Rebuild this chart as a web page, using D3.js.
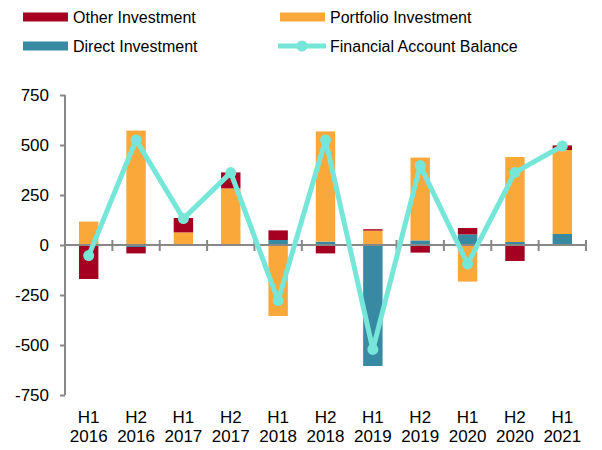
<html>
<head>
<meta charset="utf-8">
<script src="https://cdnjs.cloudflare.com/ajax/libs/d3/7.8.5/d3.min.js"></script>
</head>
<body style="margin: 0 0 0 0; background: #fff;">
<svg id="chart"></svg>
<script type="text/javascript">

// half-year periods, two-line labels
var periods = ["H1 2016", "H2 2016", "H1 2017", "H2 2017", "H1 2018", "H2 2018",
               "H1 2019", "H2 2019", "H1 2020", "H2 2020", "H1 2021"]

// values
var directInv    = [0, -10, 5, 0, 25, 17, -605, 23, 53, 15, 55]
var portfolioInv = [117, 572, 58, 283, -355, 551, 72, 414, -183, 425, 420]
var otherInv     = [-170, -32, 72, 80, 48, -42, 7, -38, 32, -80, 23]
var balance      = [-53, 525, 132, 362, -278, 525, -522, 397, -95, 363, 495]

var yTicks = [750, 500, 250, 0, -250, -500, -750]

var W = 602, H = 450
var plotL = 65, plotR = 586, plotT = 95, plotB = 395

var colors = {
  other: "#A50021",
  portfolio: "#FBA83B",
  direct: "#388AA3",
  balance: "#76E6D9"
}
var font = "Liberation Sans, Arial, sans-serif"

var svg = d3.select("#chart").attr("width", W).attr("height", H)

var rows = periods.map(function(p, i) {
  return { period: p, direct: directInv[i], portfolio: portfolioInv[i], other: otherInv[i], balance: balance[i] }
})

var x = d3.scaleBand().domain(periods).range([plotL, plotR]).paddingInner(0).paddingOuter(0)
var y = d3.scaleLinear().domain([-750, 750]).range([plotB, plotT])

var barW = x.bandwidth() * 0.41

// stacked bars, diverging around zero
var stack = d3.stack().keys(["direct", "portfolio", "other"]).offset(d3.stackOffsetDiverging)
var series = stack(rows)

svg.append("g")
  .selectAll("g")
  .data(series)
  .enter().append("g")
  .attr("fill", function(s) { return colors[s.key] })
  .selectAll("rect")
  .data(function(s) { return s })
  .enter().append("rect")
  .attr("x", function(d) { return x(d.data.period) + (x.bandwidth() - barW) / 2 })
  .attr("width", barW)
  .attr("y", function(d) { return y(Math.max(d[0], d[1])) })
  .attr("height", function(d) { return Math.abs(y(d[0]) - y(d[1])) })

// y axis
var yAxis = svg.append("g")
  .attr("transform", "translate(" + plotL + ",0)")
  .call(d3.axisLeft(y).tickValues(yTicks).tickSize(5).tickPadding(11)
    .tickFormat(function(d) { return String(d) }))
yAxis.select(".domain").attr("stroke", "#888").attr("stroke-width", 2)
  .attr("d", "M0," + y(750) + "V" + y(-750))
yAxis.selectAll(".tick line").attr("stroke", "#888").attr("stroke-width", 2)
yAxis.selectAll("text")
  .attr("font-family", font).attr("font-size", 17).attr("fill", "#000")

// x axis along zero with cross ticks at band edges
var xg = svg.append("g")
xg.append("line")
  .attr("x1", plotL).attr("x2", plotR)
  .attr("y1", y(0)).attr("y2", y(0))
  .attr("stroke", "#888").attr("stroke-width", 2)
xg.selectAll("line.tk")
  .data(periods)
  .enter().append("line")
  .attr("class", "tk")
  .attr("x1", function(d) { return x(d) + x.bandwidth() })
  .attr("x2", function(d) { return x(d) + x.bandwidth() })
  .attr("y1", y(0) - 5).attr("y2", y(0) + 6)
  .attr("stroke", "#888").attr("stroke-width", 2)

// category labels at the bottom
var lab = svg.append("g").selectAll("text")
  .data(periods)
  .enter().append("text")
  .attr("text-anchor", "middle")
  .attr("font-family", font).attr("font-size", 17).attr("fill", "#000")
lab.append("tspan").attr("x", function(d) { return x(d) + x.bandwidth() / 2 }).attr("y", 423)
  .text(function(d) { return d.split(" ")[0] })
lab.append("tspan").attr("x", function(d) { return x(d) + x.bandwidth() / 2 }).attr("y", 442)
  .text(function(d) { return d.split(" ")[1] })

// balance line with markers
var line = d3.line()
  .x(function(d) { return x(d.period) + x.bandwidth() / 2 })
  .y(function(d) { return y(d.balance) })

svg.append("path")
  .datum(rows)
  .attr("d", line)
  .attr("fill", "none")
  .attr("stroke", colors.balance)
  .attr("stroke-width", 5)
  .attr("stroke-linejoin", "round")

svg.append("g").selectAll("circle")
  .data(rows)
  .enter().append("circle")
  .attr("cx", function(d) { return x(d.period) + x.bandwidth() / 2 })
  .attr("cy", function(d) { return y(d.balance) })
  .attr("r", 5.5)
  .attr("fill", colors.balance)

// legend
var legendItems = [
  { key: "other", label: "Other Investment", x: 23, y: 17 },
  { key: "portfolio", label: "Portfolio Investment", x: 280, y: 17 },
  { key: "direct", label: "Direct Investment", x: 23, y: 46 },
  { key: "balance", label: "Financial Account Balance", x: 278, y: 46 }
]
var lg = svg.append("g").selectAll("g")
  .data(legendItems)
  .enter().append("g")
  .attr("transform", function(d) { return "translate(" + d.x + "," + d.y + ")" })

lg.each(function(d) {
  var g = d3.select(this)
  if (d.key === "balance") {
    g.append("line").attr("x1", 0).attr("x2", 48).attr("y1", 0).attr("y2", 0)
      .attr("stroke", colors.balance).attr("stroke-width", 5)
    g.append("circle").attr("cx", 24).attr("cy", 0).attr("r", 5.5).attr("fill", colors.balance)
    g.append("text").attr("x", 52).attr("y", 0).attr("dy", "0.35em")
      .attr("font-family", font).attr("font-size", 16).attr("fill", "#000").text(d.label)
  } else {
    g.append("rect").attr("x", 0).attr("y", -4.5).attr("width", 45).attr("height", 9)
      .attr("fill", colors[d.key])
    g.append("text").attr("x", 50).attr("y", 0).attr("dy", "0.35em")
      .attr("font-family", font).attr("font-size", 16).attr("fill", "#000").text(d.label)
  }
})

</script>
</body>
</html>
